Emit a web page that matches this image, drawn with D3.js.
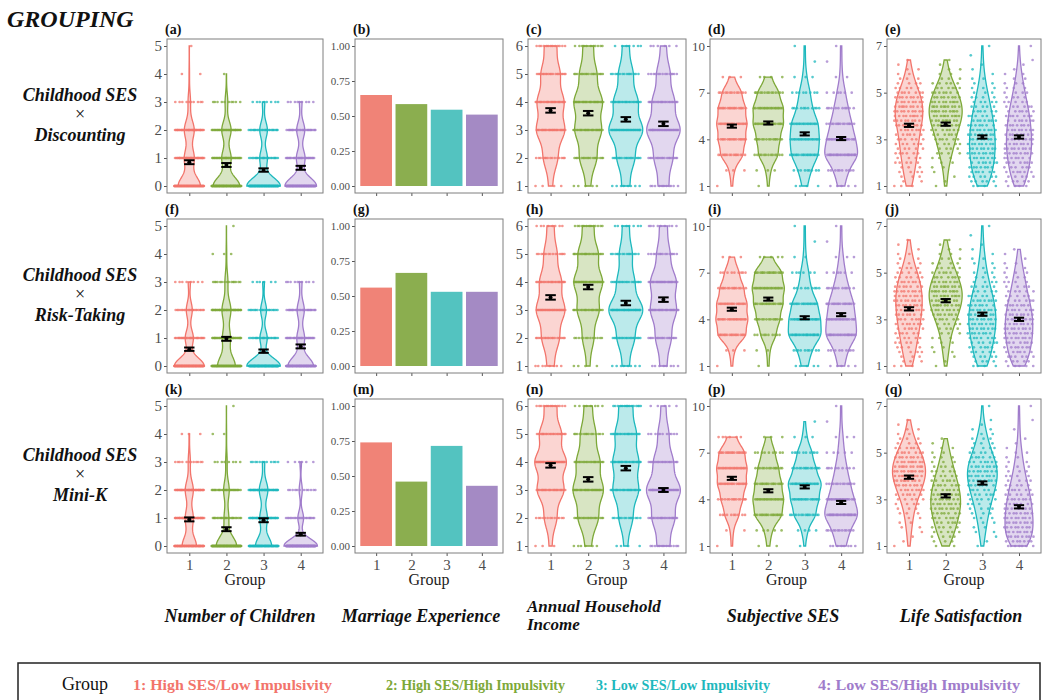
<!DOCTYPE html>
<html>
<head>
<meta charset="utf-8">
<script src="https://cdn.jsdelivr.net/npm/d3@7"></script>
<style>
  body { margin: 0; background: #fff; }
  text { font-family: "Liberation Serif", "Times New Roman", serif; }
</style>
</head>
<body>
<svg id="fig" width="1043" height="700"></svg>
<script>
// ---- data ----
var groups = ["1", "2", "3", "4"];
var groupLabels = ["1: High SES/Low Impulsivity", "2: High SES/High Impulsivity",
                   "3: Low SES/Low Impulsivity", "4: Low SES/High Impulsivity"];
var rowNames = ["Discounting", "Risk-Taking", "Mini-K"];
var colTitles = ["Number of Children", "Marriage Experience", "Annual Household Income", "Subjective SES", "Life Satisfaction"];
var panelLetters = [["a", "b", "c", "d", "e"], ["f", "g", "h", "i", "j"], ["k", "m", "n", "p", "q"]];

var lineColors = ["#F2746B", "#7DA838", "#1DB8BD", "#A07CCB"];
var barColors = ["#F08377", "#8BAE4F", "#53C3C0", "#A48AC4"];

var childLevels = [0, 1, 2, 3, 4, 5];
var incomeLevels = [1, 2, 3, 4, 5, 6];
var sesLevels = [1, 2, 3, 4, 5, 6, 7, 8, 9, 10];
var lifeLevels = [1, 1.2, 1.4, 1.6, 1.8, 2, 2.2, 2.4, 2.6, 2.8, 3, 3.2, 3.4, 3.6, 3.8, 4,
                  4.2, 4.4, 4.6, 4.8, 5, 5.2, 5.4, 5.6, 5.8, 6, 6.2, 6.4, 6.6, 6.8, 7];

var childTicks = [0, 1, 2, 3, 4, 5];
var marriageTicks = [0, 0.25, 0.5, 0.75, 1];
var incomeTicks = [1, 2, 3, 4, 5, 6];
var sesTicks = [1, 4, 7, 10];
var lifeTicks = [1, 3, 5, 7];

// counts of respondents at each level, per group
var countsA = [[90, 40, 40, 10, 2, 1], [100, 35, 35, 10, 1, 0], [110, 25, 25, 8, 0, 0], [110, 30, 28, 9, 0, 0]];
var countsF = [[110, 30, 22, 8, 0, 0], [90, 40, 45, 15, 3, 1], [115, 25, 20, 6, 0, 0], [100, 30, 28, 10, 0, 0]];
var countsK = [[80, 45, 45, 12, 3, 0], [110, 25, 30, 8, 2, 1], [85, 40, 45, 12, 0, 0], [130, 22, 12, 6, 0, 0]];

var countsC = [[4, 15, 30, 28, 20, 13], [5, 18, 28, 30, 18, 11], [8, 18, 35, 25, 15, 7], [11, 19, 35, 23, 14, 6]];
var countsH = [[8, 20, 33, 25, 15, 8], [4, 13, 25, 33, 23, 13], [8, 20, 40, 20, 15, 8], [8, 18, 30, 30, 15, 9]];
var countsN = [[3, 13, 28, 33, 23, 13], [6, 20, 30, 23, 15, 8], [4, 15, 28, 28, 23, 15], [13, 23, 35, 20, 11, 5]];

var countsD = [[1, 3, 15, 18, 20, 18, 13, 3, 0, 0], [1, 3, 13, 15, 20, 20, 14, 4, 0, 0],
               [4, 9, 20, 21, 20, 11, 8, 3, 1, 1], [5, 10, 25, 20, 15, 10, 6, 2, 1, 1]];
var countsI = [[1, 3, 18, 20, 19, 15, 9, 3, 0, 0], [1, 2, 10, 15, 19, 21, 18, 5, 0, 0],
               [5, 10, 25, 23, 19, 9, 6, 2, 1, 1], [5, 9, 23, 20, 18, 11, 6, 3, 1, 1]];
var countsP = [[1, 2, 10, 15, 20, 21, 18, 6, 0, 0], [2, 5, 19, 21, 18, 14, 9, 3, 0, 0],
               [1, 4, 15, 19, 23, 15, 10, 3, 1, 0], [8, 13, 28, 20, 14, 9, 5, 3, 1, 1]];

var countsE = [[3, 2, 3, 4, 3, 5, 4, 6, 5, 6, 6, 6, 7, 8, 8, 9, 9, 9, 8, 8, 7, 5, 4, 3, 2, 2, 1, 1, 0, 0, 0],
               [1, 1, 1, 1, 2, 2, 3, 4, 4, 5, 6, 6, 7, 8, 9, 10, 10, 10, 9, 8, 7, 6, 5, 3, 2, 2, 1, 1, 0, 0, 0],
               [4, 5, 6, 6, 7, 7, 8, 8, 8, 8, 8, 8, 8, 7, 7, 6, 6, 5, 5, 4, 3, 3, 2, 2, 1, 1, 1, 0, 1, 0, 1],
               [4, 5, 5, 6, 6, 7, 7, 8, 8, 8, 8, 8, 8, 7, 7, 7, 6, 6, 5, 4, 4, 3, 3, 2, 2, 1, 1, 1, 0, 0, 1]];
var countsJ = [[3, 3, 3, 4, 4, 5, 5, 6, 6, 7, 7, 7, 8, 8, 8, 8, 8, 7, 7, 6, 5, 4, 3, 2, 2, 1, 1, 1, 0, 0, 0],
               [1, 1, 1, 2, 2, 2, 3, 3, 4, 5, 6, 7, 8, 9, 9, 10, 10, 9, 8, 7, 6, 5, 4, 3, 2, 2, 1, 1, 0, 0, 0],
               [4, 4, 5, 5, 6, 6, 7, 7, 8, 8, 8, 8, 8, 7, 7, 6, 5, 5, 4, 3, 3, 2, 2, 2, 1, 1, 1, 0, 1, 0, 1],
               [5, 5, 6, 6, 7, 7, 8, 8, 8, 8, 8, 8, 7, 7, 6, 5, 5, 4, 4, 3, 3, 2, 2, 1, 1, 1, 0, 0, 0, 0, 0]];
var countsQ = [[1, 1, 1, 1, 2, 2, 2, 3, 3, 4, 5, 6, 7, 8, 9, 10, 10, 10, 9, 8, 7, 6, 4, 3, 2, 2, 1, 1, 0, 0, 0],
               [2, 3, 4, 5, 5, 6, 7, 7, 8, 8, 8, 8, 7, 7, 6, 5, 5, 4, 3, 3, 2, 2, 1, 1, 0, 0, 0, 0, 0, 0, 0],
               [1, 1, 1, 2, 2, 2, 3, 3, 4, 4, 5, 6, 6, 7, 8, 8, 8, 8, 7, 6, 5, 4, 3, 3, 2, 2, 1, 1, 0, 0, 1],
               [7, 7, 8, 8, 8, 8, 8, 8, 7, 7, 7, 6, 6, 5, 4, 4, 3, 3, 2, 2, 2, 1, 1, 1, 0, 1, 0, 1, 0, 0, 1]];

// proportion ever married
var marriageB = [0.65, 0.585, 0.545, 0.51];
var marriageG = [0.56, 0.665, 0.53, 0.53];
var marriageM = [0.74, 0.46, 0.715, 0.43];

// group means and standard errors
var meanA = [0.85, 0.75, 0.57, 0.65],  seA = [0.07, 0.07, 0.06, 0.07];
var meanC = [3.7, 3.6, 3.38, 3.22],    seC = [0.08, 0.08, 0.08, 0.08];
var meanD = [4.85, 5.05, 4.35, 4.05],  seD = [0.1, 0.1, 0.1, 0.1];
var meanE = [3.6, 3.65, 3.1, 3.1],     seE = [0.07, 0.07, 0.07, 0.07];
var meanF = [0.6, 0.97, 0.53, 0.7],    seF = [0.06, 0.07, 0.06, 0.07];
var meanH = [3.45, 3.82, 3.25, 3.37],  seH = [0.08, 0.08, 0.08, 0.08];
var meanI = [4.65, 5.3, 4.1, 4.3],     seI = [0.1, 0.1, 0.1, 0.1];
var meanJ = [3.45, 3.8, 3.22, 3.0],    seJ = [0.07, 0.07, 0.07, 0.07];
var meanK = [0.95, 0.6, 0.92, 0.42],   seK = [0.07, 0.07, 0.07, 0.05];
var meanN = [3.88, 3.38, 3.78, 3.0],   seN = [0.08, 0.08, 0.08, 0.07];
var meanP = [5.35, 4.55, 4.8, 3.8],    seP = [0.1, 0.1, 0.1, 0.1];
var meanQ = [3.95, 3.15, 3.7, 2.68],   seQ = [0.07, 0.07, 0.07, 0.07];

// ---- layout ----
var svg = d3.select('#fig');
var colX = [[167, 323], [355, 503], [528, 686], [710, 863], [887, 1041]];
var rowTop = [39, 219, 399];
var boxH = 154;
var yLabelSize = [15, 11, 14.5, 13, 12];
var bwAdjust = [1, 1, 0.9, 0.85, 1];

var violinCols = [
  {col: 0, levels: childLevels, ticks: childTicks, rows: [[countsA, meanA, seA], [countsF, meanF, seF], [countsK, meanK, seK]]},
  {col: 2, levels: incomeLevels, ticks: incomeTicks, rows: [[countsC, meanC, seC], [countsH, meanH, seH], [countsN, meanN, seN]]},
  {col: 3, levels: sesLevels, ticks: sesTicks, rows: [[countsD, meanD, seD], [countsI, meanI, seI], [countsP, meanP, seP]]},
  {col: 4, levels: lifeLevels, ticks: lifeTicks, rows: [[countsE, meanE, seE], [countsJ, meanJ, seJ], [countsQ, meanQ, seQ]]}
];
var barRows = [marriageB, marriageG, marriageM];

function makeScales(row, col, lo, hi) {
  var pad = (hi - lo) * 0.05;
  var x = d3.scalePoint().domain(groups).range(colX[col]).padding(0.6);
  var y = d3.scaleLinear().domain([lo - pad, hi + pad]).range([rowTop[row] + boxH, rowTop[row]]);
  return {x: x, y: y};
}

function drawFrame(row, col, s, ticks, fmt) {
  var g = svg.append('g');
  g.append('g')
    .attr('transform', 'translate(' + colX[col][0] + ',0)')
    .call(d3.axisLeft(s.y).tickValues(ticks).tickSize(3).tickPadding(2).tickFormat(fmt))
    .call(a => a.select('.domain').remove())
    .call(a => a.selectAll('line').attr('stroke', '#555'))
    .call(a => a.selectAll('text').attr('fill', '#4d4d4d').attr('font-size', yLabelSize[col])
      .style('font-family', '"Liberation Serif", serif'));
  var xa = g.append('g')
    .attr('transform', 'translate(0,' + (rowTop[row] + boxH) + ')')
    .call(d3.axisBottom(s.x).tickSize(3).tickPadding(3))
    .call(a => a.select('.domain').remove())
    .call(a => a.selectAll('line').attr('stroke', '#555'))
    .call(a => a.selectAll('text').attr('fill', '#4d4d4d').attr('font-size', 15)
      .style('font-family', '"Liberation Serif", serif'));
  if (row < 2) xa.selectAll('text').remove();
  else {
    g.append('text')
      .attr('x', (colX[col][0] + colX[col][1]) / 2).attr('y', 585)
      .attr('text-anchor', 'middle').attr('font-size', 16).attr('fill', '#222')
      .text('Group');
  }
  g.append('text')
    .attr('x', colX[col][0] - 2).attr('y', rowTop[row] - 5)
    .attr('font-size', 14).attr('font-weight', 'bold').attr('fill', '#111')
    .text('(' + panelLetters[row][col] + ')');
  return g;
}

// gaussian kernel density on the data range (trimmed, like geom_violin)
function kde(levels, counts, adjust) {
  var sample = [];
  levels.forEach((v, i) => { for (var k = 0; k < counts[i]; k++) sample.push(v); });
  var n = sample.length;
  var bw = adjust * 0.9 * d3.deviation(sample) * Math.pow(n, -0.2);
  var ext = d3.extent(sample);
  var pts = [];
  for (var j = 0; j <= 200; j++) {
    var v = ext[0] + (ext[1] - ext[0]) * j / 200;
    var dsum = 0;
    levels.forEach((lv, i) => {
      if (counts[i]) { var z = (v - lv) / bw; dsum += counts[i] * Math.exp(-0.5 * z * z); }
    });
    pts.push({v: v, d: dsum / (n * bw * Math.sqrt(2 * Math.PI))});
  }
  return pts;
}

// ---- violin panels ----
violinCols.forEach(vc => {
  vc.rows.forEach((r, row) => {
    var counts = r[0], means = r[1], ses = r[2];
    var s = makeScales(row, vc.col, vc.levels[0], vc.levels[vc.levels.length - 1]);
    var step = s.x.step();
    var g = drawFrame(row, vc.col, s, vc.ticks, d3.format('d'));

    var dens = counts.map(c => kde(vc.levels, c, bwAdjust[vc.col]));
    var maxD = d3.max(dens, p => d3.max(p, q => q.d));

    groups.forEach((grp, gi) => {
      var cx = s.x(grp);
      var area = d3.area()
        .y(d => s.y(d.v))
        .x0(d => cx - d.d / maxD * 0.45 * step)
        .x1(d => cx + d.d / maxD * 0.45 * step);
      g.append('path').datum(dens[gi])
        .attr('d', area)
        .attr('fill', lineColors[gi]).attr('fill-opacity', 0.3)
        .attr('stroke', lineColors[gi]).attr('stroke-width', 1.3);

      // jittered points (deterministic low-discrepancy offsets)
      var dots = [];
      vc.levels.forEach((lv, li) => {
        for (var k = 0; k < counts[gi][li]; k++) {
          var u = (k * 0.6180339887 + li * 0.313 + gi * 0.171) % 1;
          dots.push({v: lv, u: u});
        }
      });
      g.append('g').selectAll('circle').data(dots).enter().append('circle')
        .attr('cx', d => cx + (d.u - 0.5) * 0.8 * step)
        .attr('cy', d => s.y(d.v))
        .attr('r', 1.35)
        .attr('fill', lineColors[gi]).attr('fill-opacity', 0.75);
    });

    // mean +/- SE
    var eb = g.append('g');
    groups.forEach((grp, gi) => {
      var cx = s.x(grp), hw = 0.14 * step;
      var yT = s.y(means[gi] + ses[gi]), yB = s.y(means[gi] - ses[gi]);
      eb.append('line').attr('x1', cx).attr('x2', cx).attr('y1', yT).attr('y2', yB);
      eb.append('line').attr('x1', cx - hw).attr('x2', cx + hw).attr('y1', yT).attr('y2', yT);
      eb.append('line').attr('x1', cx - hw).attr('x2', cx + hw).attr('y1', yB).attr('y2', yB);
      eb.append('circle').attr('cx', cx).attr('cy', s.y(means[gi])).attr('r', 2).attr('fill', '#000');
    });
    eb.selectAll('line').attr('stroke', '#000').attr('stroke-width', 2);

    g.append('rect')
      .attr('x', colX[vc.col][0]).attr('y', rowTop[row])
      .attr('width', colX[vc.col][1] - colX[vc.col][0]).attr('height', boxH)
      .attr('fill', 'none').attr('stroke', '#7f7f7f').attr('stroke-width', 1);
  });
});

// ---- bar panels ----
barRows.forEach((vals, row) => {
  var s = makeScales(row, 1, 0, 1);
  var step = s.x.step();
  var g = drawFrame(row, 1, s, marriageTicks, d3.format('.2f'));
  g.selectAll('.bar').data(vals).enter().append('rect')
    .attr('x', (d, i) => s.x(groups[i]) - 0.45 * step)
    .attr('width', 0.9 * step)
    .attr('y', d => s.y(d))
    .attr('height', d => s.y(0) - s.y(d))
    .attr('fill', (d, i) => barColors[i]);
  g.append('rect')
    .attr('x', colX[1][0]).attr('y', rowTop[row])
    .attr('width', colX[1][1] - colX[1][0]).attr('height', boxH)
    .attr('fill', 'none').attr('stroke', '#7f7f7f').attr('stroke-width', 1);
});

// ---- headings ----
svg.append('text').attr('x', 7).attr('y', 27)
  .attr('font-size', 24).attr('font-weight', 'bold').attr('font-style', 'italic').attr('fill', '#111')
  .text('GROUPING');

rowNames.forEach((name, row) => {
  var t = svg.append('text').attr('text-anchor', 'middle')
    .attr('font-size', 18).attr('font-weight', 'bold').attr('font-style', 'italic').attr('fill', '#111');
  t.append('tspan').attr('x', 80).attr('y', 101 + row * 180).text('Childhood SES');
  t.append('tspan').attr('x', 80).attr('y', 120 + row * 180).attr('font-style', 'normal').attr('font-weight', 'normal').text('×');
  t.append('tspan').attr('x', 80).attr('y', 141 + row * 180).text(name);
});

var titleX = [240, 421, 527, 783, 961];
colTitles.forEach((title, i) => {
  var t = svg.append('text')
    .attr('font-size', 18).attr('font-weight', 'bold').attr('font-style', 'italic').attr('fill', '#111');
  if (i === 2) {
    t.attr('font-size', 17);
    t.append('tspan').attr('x', titleX[i]).attr('y', 612).text('Annual Household');
    t.append('tspan').attr('x', titleX[i]).attr('y', 630).text('Income');
  } else {
    t.attr('x', titleX[i]).attr('y', 622).attr('text-anchor', 'middle').text(title);
  }
});

// ---- legend ----
svg.append('rect').attr('x', 18).attr('y', 663).attr('width', 1022).attr('height', 45)
  .attr('fill', 'none').attr('stroke', '#222').attr('stroke-width', 1.5);
svg.append('text').attr('x', 62).attr('y', 690).attr('font-size', 18).attr('fill', '#111').text('Group');
var legX = [133, 386, 596, 818];
var legW = [199, 179, 174, 202];
groupLabels.forEach((lab, i) => {
  svg.append('text').attr('x', legX[i]).attr('y', 690)
    .attr('font-size', 15).attr('font-weight', 'bold').attr('fill', lineColors[i])
    .attr('textLength', legW[i]).attr('lengthAdjust', 'spacingAndGlyphs')
    .text(lab);
});
</script>
</body>
</html>
